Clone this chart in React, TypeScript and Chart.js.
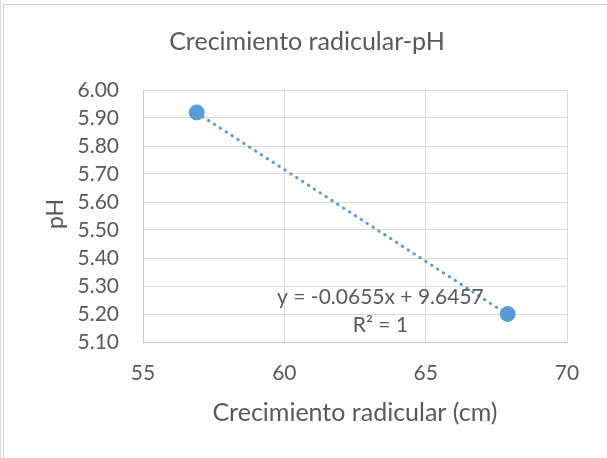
import React, { useEffect, useRef } from "react";
import { Chart, registerables } from "chart.js";

Chart.register(...registerables);

const chartTitle = "Crecimiento radicular-pH";
const xAxisTitle = "Crecimiento radicular (cm)";
const yAxisTitle = "pH";
const rootGrowth = [56.9, 67.9];
const phValues = [5.92, 5.2];
const trendSlope = -0.0655;
const trendIntercept = 9.6457;
const trendR2 = 1;
const xTicks = { min: 55, max: 70, step: 5 };
const yTicks = { min: 5.1, max: 6.0, step: 0.1 };
const eqAnchor = { x: 63.4, y1: 5.26, y2: 5.16 };

const FONT = "Lato, 'Liberation Sans', sans-serif";
const TEXT = "#595959";
const BLUE = "#5B9BD5";

export default function App() {
  const ref = useRef<HTMLCanvasElement | null>(null);
  useEffect(() => {
    if (!ref.current) return;
    const trendX = [Math.min(...rootGrowth), Math.max(...rootGrowth)];
    const trendData = trendX.map((x) => ({ x, y: trendSlope * x + trendIntercept }));
    const textPlugin = {
      id: "texts",
      afterDraw(chart: any) {
        const ctx = chart.ctx;
        const xs = chart.scales.x;
        const ys = chart.scales.y;
        ctx.save();
        ctx.fillStyle = TEXT;
        ctx.textAlign = "center";
        ctx.textBaseline = "middle";
        ctx.font = `25px ${FONT}`;
        ctx.fillText(chartTitle, 307, 42);
        ctx.fillText(xAxisTitle, 355, 413);
        ctx.save();
        ctx.font = `23px ${FONT}`;
        ctx.translate(56, 214);
        ctx.rotate(-Math.PI / 2);
        ctx.fillText(yAxisTitle, 0, 0);
        ctx.restore();
        ctx.font = `21px ${FONT}`;
        const sign = trendIntercept >= 0 ? "+" : "-";
        const eq = `y = ${trendSlope.toFixed(4)}x ${sign} ${Math.abs(trendIntercept).toFixed(4)}`;
        ctx.fillText(eq, xs.getPixelForValue(eqAnchor.x), ys.getPixelForValue(eqAnchor.y1));
        ctx.fillText(`R² = ${trendR2}`, xs.getPixelForValue(eqAnchor.x), ys.getPixelForValue(eqAnchor.y2));
        ctx.restore();
      },
    };
    const chart = new Chart(ref.current, {
      type: "scatter",
      data: {
        datasets: [
          {
            type: "line",
            label: "trend",
            data: trendData,
            borderColor: BLUE,
            borderWidth: 3,
            borderDash: [0.5, 6.5],
            borderCapStyle: "round",
            pointRadius: 0,
            fill: false,
          } as any,
          {
            label: "pH",
            data: rootGrowth.map((x, i) => ({ x, y: phValues[i] })),
            backgroundColor: BLUE,
            borderColor: BLUE,
            pointRadius: 7.5,
            pointHoverRadius: 7.5,
          },
        ],
      },
      options: {
        animation: false,
        responsive: false,
        events: [],
        layout: { padding: { top: 90, right: 40, left: 0, bottom: 0 } },
        plugins: { legend: { display: false }, title: { display: false }, tooltip: { enabled: false } },
        scales: {
          x: {
            type: "linear",
            min: xTicks.min,
            max: xTicks.max,
            afterFit: (s: any) => { s.height = 116; },
            ticks: {
              stepSize: xTicks.step,
              autoSkip: false,
              maxRotation: 0,
              color: TEXT,
              font: { family: FONT, size: 21 },
              padding: 19,
            },
            grid: { color: "#d9d9d9", lineWidth: 1, drawTicks: false },
            border: { color: "#c8c8c8", width: 1 },
          },
          y: {
            type: "linear",
            min: yTicks.min,
            max: yTicks.max,
            afterFit: (s: any) => { s.width = 143; },
            ticks: {
              stepSize: yTicks.step,
              autoSkip: false,
              color: TEXT,
              font: { family: FONT, size: 21 },
              padding: 24,
              callback: (v: any) => Number(v).toFixed(2),
            },
            grid: { color: "#d9d9d9", lineWidth: 1, drawTicks: false },
            border: { color: "#c8c8c8", width: 1 },
          },
        },
      },
      plugins: [textPlugin],
    });
    return () => chart.destroy();
  }, []);
  return (
    <div style={{ position: "absolute", left: 0, top: 0, width: 607, height: 458, background: "#fff", overflow: "hidden" }}>
      <div style={{ position: "absolute", left: 0, top: 0, width: 1, height: 458, background: "#d9d9d9" }} />
      <div style={{ position: "absolute", left: 3, top: 4, width: 604, height: 1, background: "#d0d0d0" }} />
      <div style={{ position: "absolute", left: 3, top: 4, width: 1, height: 454, background: "#d0d0d0" }} />
      <canvas ref={ref} width={607} height={458} style={{ position: "absolute", left: 0, top: 0 }} />
    </div>
  );
}
